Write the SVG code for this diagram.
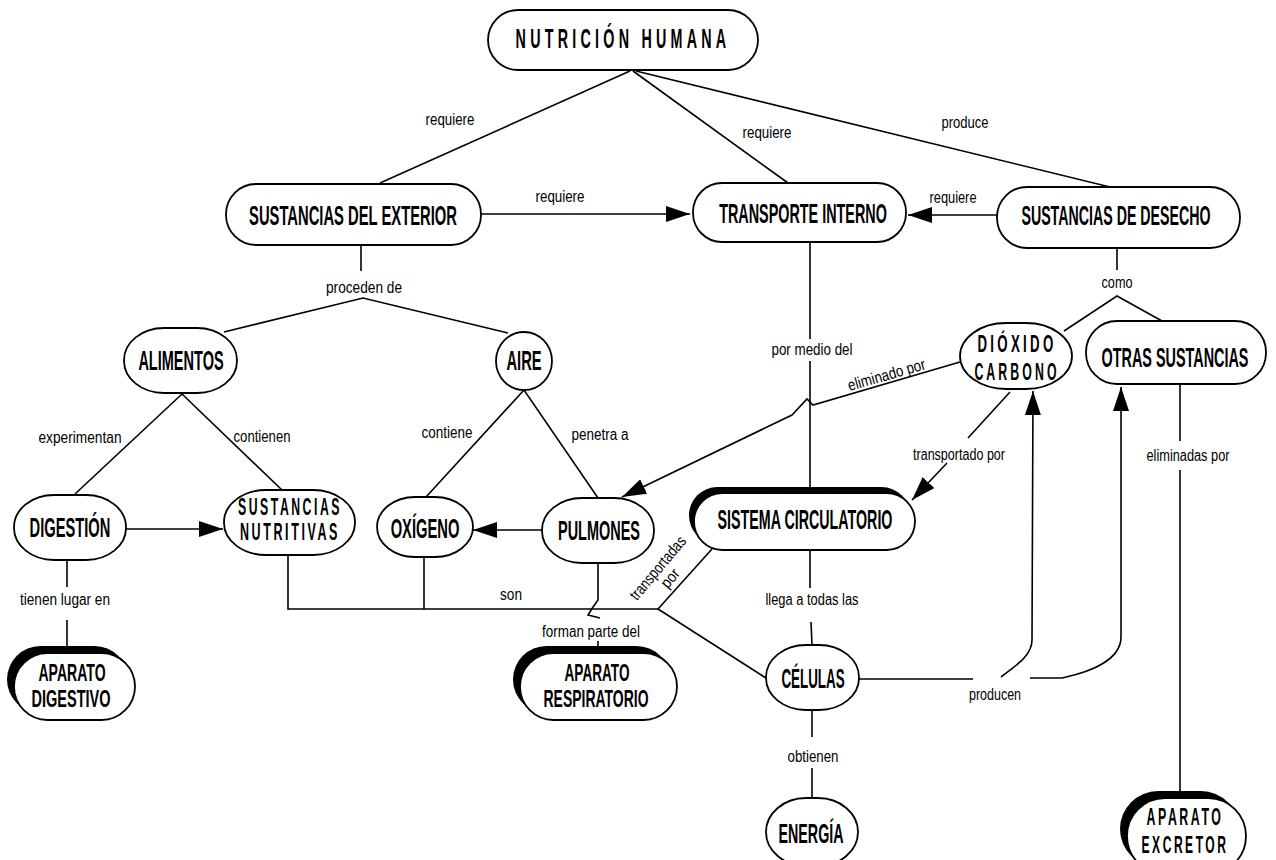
<svg xmlns="http://www.w3.org/2000/svg" width="1276" height="860" viewBox="0 0 1276 860">
<style>
.n{fill:#fff;stroke:#000;stroke-width:1.8}
.sh{fill:#000}
.t{font-family:"Liberation Sans",Arial,sans-serif;font-weight:bold;font-size:27px;text-anchor:middle;fill:#000}
.t2{font-family:"Liberation Sans",Arial,sans-serif;font-weight:bold;font-size:24px;text-anchor:middle;fill:#000}
.l{font-family:"Liberation Sans",Arial,sans-serif;font-size:16px;text-anchor:middle;fill:#000}
.c{fill:none;stroke:#000;stroke-width:1.6}
</style>
<defs>
<marker id="ah" markerUnits="userSpaceOnUse" markerWidth="24" markerHeight="16" refX="24" refY="8" orient="auto"><path d="M0,0 L24,8 L0,16 z" fill="#000"/></marker>
</defs>
<rect width="1276" height="860" fill="#fff"/>

<g id="connectors" class="c">
<path d="M630,71 L380,183"/>
<path d="M633,71 L788,183"/>
<path d="M636,71 L1110,187"/>
<path d="M481,214 L690,214" marker-end="url(#ah)"/>
<path d="M997,215 L908,215" marker-end="url(#ah)"/>
<path d="M361,245 L361,271"/>
<path d="M224,332 L363,298 L508,333"/>
<path d="M75,494 L182,394 L282,490"/>
<path d="M426,497 L524,390 L598,498"/>
<path d="M126,529 L223,529" marker-end="url(#ah)"/>
<path d="M542,530 L473,530" marker-end="url(#ah)"/>
<path d="M810,242 L810,339"/>
<path d="M810,361 L810,493"/>
<path d="M1117,248 L1117,270"/>
<path d="M1064,331 L1117,296 L1162,321"/>
<path d="M960,362 L813,405 L807,399 L792,415 L622,497" marker-end="url(#ah)"/>
<path d="M1010,392 L968,438"/>
<path d="M947,463 L912,500" marker-end="url(#ah)"/>
<path d="M1180,384 L1180,441"/>
<path d="M1180,470 L1180,791"/>
<path d="M288,555 L288,609 L658,609"/>
<path d="M424,557 L424,609"/>
<path d="M598,563 L598,600 L593,607 L588,615 L600,618"/>
<path d="M598,641 L598,647"/>
<path d="M658,609 L712,549"/>
<path d="M658,609 L766,678"/>
<path d="M810,550 L810,588"/>
<path d="M811,622 L812,645"/>
<path d="M812,710 L812,737"/>
<path d="M812,768 L812,798"/>
<path d="M859,679 L973,679"/>
<path d="M1001,677 C1015,666 1032,656 1032,640 L1033,391" marker-end="url(#ah)"/>
<path d="M1030,678 L1062,678 C1090,672 1121,660 1121,637 L1121,387" marker-end="url(#ah)"/>
<path d="M67,560 L67,587"/>
<path d="M67,620 L67,653"/>
</g>

<g id="labels">
<text class="l" x="450" y="125" textLength="49" lengthAdjust="spacingAndGlyphs">requiere</text>
<text class="l" x="767" y="138" textLength="49" lengthAdjust="spacingAndGlyphs">requiere</text>
<text class="l" x="965" y="128" textLength="47" lengthAdjust="spacingAndGlyphs">produce</text>
<text class="l" x="560" y="202" textLength="49" lengthAdjust="spacingAndGlyphs">requiere</text>
<text class="l" x="953" y="203" textLength="47" lengthAdjust="spacingAndGlyphs">requiere</text>
<text class="l" x="364" y="293" textLength="76" lengthAdjust="spacingAndGlyphs">proceden de</text>
<text class="l" x="1117" y="288" textLength="31" lengthAdjust="spacingAndGlyphs">como</text>
<text class="l" x="812" y="355" textLength="81" lengthAdjust="spacingAndGlyphs">por medio del</text>
<text class="l" x="80" y="443" textLength="83" lengthAdjust="spacingAndGlyphs">experimentan</text>
<text class="l" x="262" y="442" textLength="57" lengthAdjust="spacingAndGlyphs">contienen</text>
<text class="l" x="447" y="438" textLength="51" lengthAdjust="spacingAndGlyphs">contiene</text>
<text class="l" x="600" y="440" textLength="57" lengthAdjust="spacingAndGlyphs">penetra a</text>
<text class="l" x="888" y="380" textLength="80" lengthAdjust="spacingAndGlyphs" transform="rotate(-16 888 380)">eliminado por</text>
<text class="l" x="959" y="460" textLength="92" lengthAdjust="spacingAndGlyphs">transportado por</text>
<text class="l" x="1188" y="461" textLength="83" lengthAdjust="spacingAndGlyphs">eliminadas por</text>
<text class="l" x="511" y="600" textLength="22" lengthAdjust="spacingAndGlyphs">son</text>
<g transform="translate(665,574) rotate(-50)">
<text class="l" x="0" y="-4" textLength="78" lengthAdjust="spacingAndGlyphs">transportadas</text>
<text class="l" x="0" y="12" textLength="20" lengthAdjust="spacingAndGlyphs">por</text>
</g>
<text class="l" x="591" y="637" textLength="98" lengthAdjust="spacingAndGlyphs">forman parte del</text>
<text class="l" x="65" y="605" textLength="90" lengthAdjust="spacingAndGlyphs">tienen lugar en</text>
<text class="l" x="812" y="605" textLength="93" lengthAdjust="spacingAndGlyphs">llega a todas las</text>
<text class="l" x="995" y="700" textLength="52" lengthAdjust="spacingAndGlyphs">producen</text>
<text class="l" x="813" y="762" textLength="51" lengthAdjust="spacingAndGlyphs">obtienen</text>
</g>

<g id="nutricion">
<rect class="n" x="488" y="10" width="270" height="60" rx="30"/>
<text class="t" font-size="28" letter-spacing="8" transform="translate(623,48) scale(0.6,1)" textLength="358" lengthAdjust="spacingAndGlyphs">NUTRICIÓN HUMANA</text>
</g>
<g id="sust-exterior">
<rect class="n" x="226" y="184" width="255" height="61" rx="30"/>
<text class="t" transform="translate(353,225) scale(0.55,1)" textLength="378" lengthAdjust="spacingAndGlyphs">SUSTANCIAS DEL EXTERIOR</text>
</g>
<g id="transporte">
<rect class="n" x="693" y="183" width="213" height="59" rx="29"/>
<text class="t" transform="translate(803,223) scale(0.55,1)" textLength="305" lengthAdjust="spacingAndGlyphs">TRANSPORTE INTERNO</text>
</g>
<g id="sust-desecho">
<rect class="n" x="997" y="187" width="243" height="61" rx="30"/>
<text class="t" transform="translate(1116,225) scale(0.55,1)" textLength="344" lengthAdjust="spacingAndGlyphs">SUSTANCIAS DE DESECHO</text>
</g>
<g id="alimentos">
<rect class="n" x="124" y="328" width="113" height="65" rx="40" ry="32"/>
<text class="t" transform="translate(181,370) scale(0.55,1)" textLength="155" lengthAdjust="spacingAndGlyphs">ALIMENTOS</text>
</g>
<g id="aire">
<ellipse class="n" cx="524" cy="361" rx="28" ry="29"/>
<text class="t" transform="translate(524,370) scale(0.55,1)" textLength="64" lengthAdjust="spacingAndGlyphs">AIRE</text>
</g>
<g id="dioxido">
<rect class="n" x="960" y="323" width="112" height="66" rx="46" ry="33"/>
<text class="t2" letter-spacing="6" transform="translate(1017,352) scale(0.55,1)" textLength="144" lengthAdjust="spacingAndGlyphs">DIÓXIDO</text>
<text class="t2" letter-spacing="6" transform="translate(1017,380) scale(0.55,1)" textLength="155" lengthAdjust="spacingAndGlyphs">CARBONO</text>
</g>
<g id="otras">
<rect class="n" x="1086" y="321" width="180" height="63" rx="31"/>
<text class="t" transform="translate(1175,367) scale(0.55,1)" textLength="267" lengthAdjust="spacingAndGlyphs">OTRAS SUSTANCIAS</text>
</g>
<g id="digestion">
<rect class="n" x="14" y="495" width="112" height="65" rx="40" ry="32"/>
<text class="t" transform="translate(70,537) scale(0.55,1)" textLength="147" lengthAdjust="spacingAndGlyphs">DIGESTIÓN</text>
</g>
<g id="sust-nutritivas">
<rect class="n" x="224" y="490" width="131" height="65" rx="42" ry="32"/>
<text class="t2" font-size="21" letter-spacing="5" transform="translate(290,515) scale(0.55,1)" textLength="189" lengthAdjust="spacingAndGlyphs">SUSTANCIAS</text>
<text class="t2" font-size="21" letter-spacing="5" transform="translate(290,540) scale(0.55,1)" textLength="182" lengthAdjust="spacingAndGlyphs">NUTRITIVAS</text>
</g>
<g id="oxigeno">
<rect class="n" x="377" y="497" width="96" height="60" rx="38" ry="30"/>
<text class="t" transform="translate(425,538) scale(0.55,1)" textLength="125" lengthAdjust="spacingAndGlyphs">OXÍGENO</text>
</g>
<g id="pulmones">
<rect class="n" x="542" y="498" width="112" height="65" rx="40" ry="32"/>
<text class="t" transform="translate(599,540) scale(0.55,1)" textLength="149" lengthAdjust="spacingAndGlyphs">PULMONES</text>
</g>
<g id="sistema">
<rect class="sh" x="689" y="487" width="221" height="57" rx="28.5"/>
<rect class="n" x="694" y="493" width="221" height="57" rx="28.5"/>
<text class="t" transform="translate(805,529) scale(0.55,1)" textLength="318" lengthAdjust="spacingAndGlyphs">SISTEMA CIRCULATORIO</text>
</g>
<g id="celulas">
<rect class="n" x="766" y="645" width="93" height="65" rx="40" ry="32"/>
<text class="t" transform="translate(813,688) scale(0.55,1)" textLength="115" lengthAdjust="spacingAndGlyphs">CÉLULAS</text>
</g>
<g id="energia">
<rect class="n" x="766" y="798" width="92" height="68" rx="40" ry="34"/>
<text class="t" transform="translate(811,843) scale(0.55,1)" textLength="118" lengthAdjust="spacingAndGlyphs">ENERGÍA</text>
</g>
<g id="ap-digestivo">
<rect class="sh" x="7" y="646" width="121" height="67" rx="33.5"/>
<rect class="n" x="14" y="653" width="121" height="67" rx="33.5"/>
<text class="t2" transform="translate(72,681) scale(0.55,1)" textLength="122" lengthAdjust="spacingAndGlyphs">APARATO</text>
<text class="t2" transform="translate(71,707) scale(0.55,1)" textLength="144" lengthAdjust="spacingAndGlyphs">DIGESTIVO</text>
</g>
<g id="ap-respiratorio">
<rect class="sh" x="513" y="646" width="157" height="67" rx="33.5"/>
<rect class="n" x="520" y="653" width="157" height="67" rx="33.5"/>
<text class="t2" transform="translate(597,681) scale(0.55,1)" textLength="118" lengthAdjust="spacingAndGlyphs">APARATO</text>
<text class="t2" transform="translate(596,707) scale(0.55,1)" textLength="191" lengthAdjust="spacingAndGlyphs">RESPIRATORIO</text>
</g>
<g id="ap-excretor">
<rect class="sh" x="1120" y="791" width="119" height="76" rx="38"/>
<rect class="n" x="1127" y="798" width="119" height="76" rx="38"/>
<text class="t2" letter-spacing="5" transform="translate(1185,825) scale(0.55,1)" textLength="140" lengthAdjust="spacingAndGlyphs">APARATO</text>
<text class="t2" letter-spacing="5" transform="translate(1185,853) scale(0.55,1)" textLength="158" lengthAdjust="spacingAndGlyphs">EXCRETOR</text>
</g>
</svg>
